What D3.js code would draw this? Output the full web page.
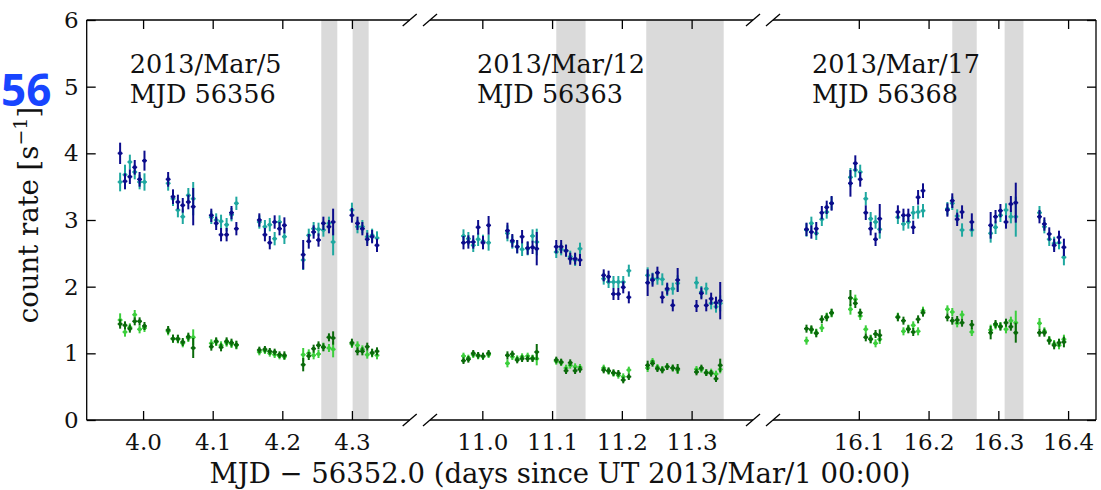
<!DOCTYPE html>
<html>
<head>
<meta charset="utf-8">
<script src="https://cdn.jsdelivr.net/npm/d3@7"></script>
<style>
  html, body { margin: 0; padding: 0; background: #fff; }
  svg { display: block; }
</style>
</head>
<body>
<div id="chart"></div>
<script>
// Broken x axis: three nights
const panelDomains = [[3.919, 4.383], [10.925, 11.388], [15.977, 16.440]];
const panelTicks = [[4.0, 4.1, 4.2, 4.3], [11.0, 11.1, 11.2, 11.3], [16.1, 16.2, 16.3, 16.4]];
const yTicks = [0, 1, 2, 3, 4, 5, 6];
const dateLabels = ['2013/Mar/5', '2013/Mar/12', '2013/Mar/17'];
const mjdLabels = ['MJD 56356', 'MJD 56363', 'MJD 56368'];

// shaded intervals
const shadeStart = [4.256, 4.301, 11.106, 11.235, 16.234, 16.309];
const shadeEnd = [4.279, 4.324, 11.148, 11.346, 16.269, 16.336];

// bin centres (days since MJD 56352.0)
const times = [
  3.967, 3.974, 3.981, 3.988, 3.995, 4.002,
  4.036, 4.043, 4.050, 4.057, 4.065, 4.072,
  4.098, 4.105, 4.112, 4.120, 4.127, 4.134,
  4.167, 4.175, 4.182, 4.189, 4.196, 4.203,
  4.230, 4.238, 4.245, 4.252, 4.259, 4.267, 4.273,
  4.300, 4.308, 4.315, 4.322, 4.329, 4.336,
  10.973, 10.980, 10.987, 10.994, 11.001, 11.009,
  11.036, 11.043, 11.050, 11.057, 11.065, 11.072, 11.078,
  11.106, 11.113, 11.120, 11.126, 11.133, 11.140,
  11.174, 11.181, 11.188, 11.195, 11.202, 11.210,
  11.237, 11.244, 11.251, 11.258, 11.265, 11.273, 11.280,
  11.307, 11.314, 11.321, 11.328, 11.335, 11.341,
  16.025, 16.032, 16.039, 16.047, 16.054, 16.061,
  16.088, 16.095, 16.102, 16.110, 16.117, 16.124, 16.130,
  16.156, 16.164, 16.171, 16.178, 16.185, 16.192,
  16.227, 16.234, 16.241, 16.248, 16.262,
  16.289, 16.296, 16.303, 16.311, 16.318, 16.325,
  16.359, 16.366, 16.373, 16.380, 16.387, 16.394
];

const navyRate = [
  4.00, 3.58, 3.65, 3.79, 3.61, 3.89,
  3.61, 3.35, 3.27, 3.22, 3.27, 3.20,
  3.07, 2.95, 2.78, 2.78, 3.11, 2.87,
  3.00, 2.78, 2.66, 2.97, 2.87, 2.92,
  2.48, 2.68, 2.82, 2.70, 2.95, 2.90, 2.97,
  3.07, 2.95, 2.87, 2.71, 2.75, 2.62,
  2.66, 2.67, 2.67, 2.89, 2.66, 2.92,
  2.84, 2.69, 2.60, 2.75, 2.58, 2.59, 2.57,
  2.60, 2.60, 2.54, 2.42, 2.42, 2.40,
  2.17, 2.15, 1.89, 1.89, 1.99, 1.84,
  2.06, 2.10, 2.21, 1.84, 1.97, 1.72, 2.10,
  1.71, 1.90, 1.72, 1.82, 1.76, 1.79,
  2.86, 2.82, 2.87, 3.11, 3.19, 3.25,
  3.55, 3.85, 3.61, 3.11, 2.87, 2.71, 3.02,
  3.12, 3.07, 3.07, 2.89, 3.34, 3.44,
  3.15, 3.29, 3.01, 3.12, 2.97,
  2.92, 3.05, 3.14, 2.97, 3.24, 3.26,
  3.05, 2.94, 2.79, 2.62, 2.74, 2.59
];
const navyErr = [
  0.16, 0.12, 0.11, 0.11, 0.11, 0.15,
  0.11, 0.11, 0.11, 0.11, 0.11, 0.28,
  0.10, 0.10, 0.10, 0.10, 0.10, 0.10,
  0.10, 0.10, 0.10, 0.10, 0.10, 0.12,
  0.22, 0.11, 0.10, 0.10, 0.10, 0.10, 0.20,
  0.11, 0.10, 0.10, 0.10, 0.10, 0.10,
  0.10, 0.10, 0.10, 0.11, 0.10, 0.14,
  0.12, 0.10, 0.10, 0.10, 0.10, 0.10, 0.25,
  0.10, 0.10, 0.09, 0.09, 0.09, 0.09,
  0.09, 0.09, 0.09, 0.09, 0.09, 0.09,
  0.20, 0.10, 0.09, 0.09, 0.09, 0.09, 0.18,
  0.09, 0.09, 0.09, 0.09, 0.09, 0.28,
  0.10, 0.10, 0.10, 0.10, 0.10, 0.11,
  0.20, 0.12, 0.11, 0.11, 0.10, 0.10, 0.22,
  0.10, 0.10, 0.10, 0.10, 0.11, 0.11,
  0.10, 0.11, 0.10, 0.10, 0.13,
  0.20, 0.10, 0.10, 0.10, 0.12, 0.30,
  0.10, 0.10, 0.10, 0.10, 0.10, 0.13
];

const tealRate = [
  3.57, 3.68, 3.87, 3.72, 3.57, 3.57,
  3.55, 3.32, 3.15, 3.05, 3.37, 3.32,
  3.04, 3.00, 2.98, 2.93, 3.08, 3.25,
  2.97, 2.90, 2.93, 2.72, 2.97, 2.75,
  2.40, 2.77, 2.87, 2.86, 2.85, 2.95, 2.67,
  3.15, 2.90, 2.90, 2.75, 2.77, 2.73,
  2.76, 2.72, 2.62, 2.71, 2.68, 2.66,
  2.80, 2.67, 2.60, 2.56, 2.57, 2.76, 2.67,
  2.52, 2.56, 2.54, 2.45, 2.40, 2.57,
  2.12, 2.07, 2.07, 2.07, 2.07, 2.24,
  2.17, 2.12, 2.12, 2.11, 1.95, 1.97, 2.05,
  2.06, 1.92, 1.97, 1.75, 1.70, 1.75,
  2.85, 2.95, 2.80, 3.01, 3.12, 3.25,
  3.64, 3.75, 3.72, 3.32, 3.02, 2.97, 2.86,
  3.04, 2.94, 2.97, 3.11, 3.12, 3.14,
  3.17, 3.25, 3.06, 2.85, 2.85,
  2.80, 2.89, 3.07, 3.15, 3.05, 3.05,
  3.11, 2.90, 2.71, 2.65, 2.66, 2.44
];
const tealErr = [
  0.14, 0.15, 0.11, 0.11, 0.11, 0.13,
  0.11, 0.11, 0.11, 0.11, 0.11, 0.25,
  0.10, 0.10, 0.10, 0.10, 0.10, 0.10,
  0.10, 0.10, 0.10, 0.10, 0.10, 0.11,
  0.15, 0.10, 0.10, 0.10, 0.10, 0.10, 0.20,
  0.11, 0.10, 0.10, 0.10, 0.10, 0.10,
  0.10, 0.10, 0.10, 0.10, 0.10, 0.12,
  0.12, 0.10, 0.10, 0.10, 0.10, 0.10, 0.20,
  0.09, 0.09, 0.09, 0.09, 0.09, 0.09,
  0.09, 0.09, 0.09, 0.09, 0.09, 0.09,
  0.12, 0.09, 0.09, 0.09, 0.09, 0.09, 0.12,
  0.09, 0.09, 0.09, 0.09, 0.09, 0.12,
  0.10, 0.10, 0.10, 0.10, 0.10, 0.10,
  0.14, 0.11, 0.11, 0.10, 0.10, 0.10, 0.14,
  0.10, 0.10, 0.10, 0.10, 0.10, 0.10,
  0.10, 0.10, 0.10, 0.10, 0.10,
  0.14, 0.10, 0.10, 0.10, 0.10, 0.30,
  0.10, 0.10, 0.10, 0.10, 0.10, 0.12
];

const darkGreenRate = [
  1.44, 1.42, 1.37, 1.48, 1.48, 1.41,
  1.35, 1.22, 1.22, 1.17, 1.25, 1.08,
  1.10, 1.18, 1.09, 1.18, 1.16, 1.13,
  1.05, 1.06, 1.03, 1.02, 0.98, 0.97,
  0.83, 0.96, 1.07, 1.12, 1.09, 1.24, 1.23,
  1.16, 1.03, 1.03, 1.10, 1.01, 1.03,
  0.89, 0.91, 1.00, 0.97, 0.96, 1.00,
  0.97, 0.99, 0.90, 0.92, 0.92, 0.92, 1.02,
  0.90, 0.87, 0.74, 0.86, 0.74, 0.76,
  0.75, 0.74, 0.71, 0.70, 0.60, 0.65,
  0.82, 0.85, 0.77, 0.75, 0.80, 0.78, 0.77,
  0.72, 0.78, 0.71, 0.70, 0.62, 0.82,
  1.37, 1.36, 1.30, 1.51, 1.54, 1.61,
  1.83, 1.75, 1.61, 1.24, 1.21, 1.29, 1.27,
  1.54, 1.49, 1.36, 1.32, 1.51, 1.61,
  1.54, 1.49, 1.50, 1.46, 1.43,
  1.31, 1.44, 1.40, 1.46, 1.40, 1.31,
  1.31, 1.31, 1.19, 1.12, 1.16, 1.17
];
const darkGreenErr = [
  0.07, 0.06, 0.06, 0.06, 0.06, 0.06,
  0.06, 0.06, 0.06, 0.06, 0.06, 0.15,
  0.06, 0.06, 0.06, 0.06, 0.06, 0.06,
  0.05, 0.05, 0.05, 0.05, 0.05, 0.06,
  0.10, 0.06, 0.06, 0.06, 0.06, 0.06, 0.10,
  0.06, 0.06, 0.06, 0.06, 0.06, 0.06,
  0.05, 0.05, 0.05, 0.05, 0.05, 0.05,
  0.06, 0.05, 0.05, 0.05, 0.05, 0.05, 0.12,
  0.05, 0.05, 0.05, 0.05, 0.05, 0.05,
  0.05, 0.05, 0.05, 0.05, 0.05, 0.05,
  0.07, 0.05, 0.05, 0.05, 0.05, 0.05, 0.07,
  0.05, 0.05, 0.05, 0.05, 0.05, 0.10,
  0.06, 0.06, 0.06, 0.06, 0.06, 0.06,
  0.12, 0.07, 0.06, 0.06, 0.06, 0.06, 0.09,
  0.06, 0.06, 0.06, 0.06, 0.06, 0.06,
  0.06, 0.06, 0.06, 0.06, 0.07,
  0.10, 0.06, 0.06, 0.06, 0.06, 0.15,
  0.06, 0.06, 0.06, 0.06, 0.06, 0.08
];

const lightGreenRate = [
  1.50, 1.32, 1.39, 1.58, 1.36, 1.38,
  1.33, 1.22, 1.21, 1.15, 1.23, 1.24,
  1.15, 1.17, 1.12, 1.16, 1.14, 1.12,
  1.02, 1.04, 1.00, 0.98, 0.96, 0.95,
  0.98, 1.00, 0.97, 0.99, 1.10, 1.08, 1.06,
  1.14, 1.12, 1.06, 0.98, 1.00, 0.97,
  0.96, 0.93, 0.98, 0.96, 0.95, 0.98,
  0.85, 0.95, 0.92, 0.95, 0.96, 0.93, 0.92,
  0.88, 0.86, 0.78, 0.82, 0.80, 0.79,
  0.78, 0.73, 0.70, 0.67, 0.65, 0.75,
  0.78, 0.88, 0.79, 0.76, 0.80, 0.78, 0.75,
  0.76, 0.76, 0.71, 0.72, 0.69, 0.76,
  1.19, 1.35, 1.31, 1.38, 1.55, 1.60,
  1.66, 1.81, 1.56, 1.36, 1.22, 1.15, 1.21,
  1.55, 1.33, 1.37, 1.42, 1.33, 1.64,
  1.66, 1.62, 1.45, 1.58, 1.32,
  1.35, 1.42, 1.41, 1.36, 1.49, 1.46,
  1.45, 1.33, 1.20, 1.14, 1.12, 1.21
];
const lightGreenErr = [
  0.10, 0.07, 0.06, 0.07, 0.06, 0.06,
  0.06, 0.06, 0.06, 0.06, 0.06, 0.12,
  0.06, 0.06, 0.06, 0.06, 0.06, 0.06,
  0.05, 0.05, 0.05, 0.05, 0.05, 0.05,
  0.10, 0.06, 0.06, 0.06, 0.06, 0.06, 0.12,
  0.06, 0.06, 0.06, 0.06, 0.06, 0.06,
  0.05, 0.05, 0.05, 0.05, 0.05, 0.05,
  0.06, 0.05, 0.05, 0.05, 0.05, 0.05, 0.10,
  0.05, 0.05, 0.05, 0.05, 0.05, 0.05,
  0.05, 0.05, 0.05, 0.05, 0.05, 0.05,
  0.06, 0.05, 0.05, 0.05, 0.05, 0.05, 0.06,
  0.05, 0.05, 0.05, 0.05, 0.05, 0.06,
  0.06, 0.06, 0.06, 0.06, 0.06, 0.06,
  0.08, 0.07, 0.06, 0.06, 0.06, 0.06, 0.07,
  0.06, 0.06, 0.06, 0.06, 0.06, 0.06,
  0.06, 0.06, 0.06, 0.06, 0.06,
  0.08, 0.06, 0.06, 0.06, 0.06, 0.18,
  0.08, 0.06, 0.06, 0.06, 0.06, 0.07
];

// Series, drawn in this order
const series = [
  { rate: tealRate, err: tealErr, color: '#1fa8a0' },
  { rate: navyRate, err: navyErr, color: '#0c0c8c' },
  { rate: lightGreenRate, err: lightGreenErr, color: '#3ccf3c' },
  { rate: darkGreenRate, err: darkGreenErr, color: '#0a6a0a' }
];

const binHalf = 0.0035;

// Layout
const W = 1101, H = 490;
const plotTop = 20, plotBottom = 420;
const panelLeft = [86.7, 430, 773];
const panelWidth = 323;
const serif = "'DejaVu Serif', 'Liberation Serif', serif";

const svg = d3.select('#chart').append('svg')
  .attr('width', W)
  .attr('height', H);

const y = d3.scaleLinear().domain([0, 6]).range([plotBottom, plotTop]);

panelDomains.forEach((dom, p) => {
  const x0 = panelLeft[p];
  const x1 = x0 + panelWidth;
  const x = d3.scaleLinear().domain(dom).range([x0, x1]);
  const g = svg.append('g').attr('class', 'panel');

  // shaded spans
  shadeStart.forEach((s, k) => {
    if (s >= dom[0] && s <= dom[1]) {
      g.append('rect')
        .attr('x', x(s))
        .attr('y', plotTop)
        .attr('width', x(shadeEnd[k]) - x(s))
        .attr('height', plotBottom - plotTop)
        .attr('fill', '#dadada');
    }
  });

  // error bars
  series.forEach((s) => {
    times.forEach((t, k) => {
      if (t < dom[0] || t > dom[1]) return;
      const v = s.rate[k], e = s.err[k];
      g.append('line')
        .attr('x1', x(t)).attr('x2', x(t))
        .attr('y1', y(v - e)).attr('y2', y(v + e))
        .attr('stroke', s.color).attr('stroke-width', 2);
      g.append('line')
        .attr('x1', x(t - binHalf)).attr('x2', x(t + binHalf))
        .attr('y1', y(v)).attr('y2', y(v))
        .attr('stroke', s.color).attr('stroke-width', 1.6);
      g.append('circle')
        .attr('cx', x(t)).attr('cy', y(v)).attr('r', 2)
        .attr('fill', s.color);
    });
  });

  // x axes (ticks pointing inwards)
  const xb = g.append('g')
    .attr('transform', `translate(0,${plotBottom})`)
    .call(d3.axisBottom(x).tickValues(panelTicks[p]).tickFormat(d3.format('.1f'))
      .tickSizeInner(-9).tickSizeOuter(0).tickPadding(14));
  const xt = g.append('g')
    .attr('transform', `translate(0,${plotTop})`)
    .call(d3.axisTop(x).tickValues(panelTicks[p]).tickFormat('')
      .tickSizeInner(-9).tickSizeOuter(0));
  [xb, xt].forEach((a) => {
    a.select('.domain').remove();
    a.selectAll('line').attr('stroke', '#000').attr('stroke-width', 1.3);
    a.selectAll('text').attr('font-family', serif).attr('font-size', 23).attr('fill', '#111');
  });

  // spines
  g.append('line').attr('x1', x0).attr('x2', x1).attr('y1', plotTop).attr('y2', plotTop)
    .attr('stroke', '#000').attr('stroke-width', 1.3);
  g.append('line').attr('x1', x0).attr('x2', x1).attr('y1', plotBottom).attr('y2', plotBottom)
    .attr('stroke', '#000').attr('stroke-width', 1.3);

  if (p === 0) {
    const ya = g.append('g')
      .attr('transform', `translate(${x0},0)`)
      .call(d3.axisLeft(y).tickValues(yTicks).tickFormat(d3.format('d'))
        .tickSizeInner(-9).tickSizeOuter(0).tickPadding(8));
    ya.select('.domain').remove();
    ya.selectAll('line').attr('stroke', '#000').attr('stroke-width', 1.3);
    ya.selectAll('text').attr('font-family', serif).attr('font-size', 23).attr('fill', '#111');
    g.append('line').attr('x1', x0).attr('x2', x0).attr('y1', plotTop).attr('y2', plotBottom)
      .attr('stroke', '#000').attr('stroke-width', 1.3);
  }
  if (p === panelDomains.length - 1) {
    const yr = g.append('g')
      .attr('transform', `translate(${x1},0)`)
      .call(d3.axisRight(y).tickValues(yTicks).tickFormat('')
        .tickSizeInner(-9).tickSizeOuter(0));
    yr.select('.domain').remove();
    yr.selectAll('line').attr('stroke', '#000').attr('stroke-width', 1.3);
    g.append('line').attr('x1', x1).attr('x2', x1).attr('y1', plotTop).attr('y2', plotBottom)
      .attr('stroke', '#000').attr('stroke-width', 1.3);
  }

  // break marks
  const breaks = [];
  if (p > 0) breaks.push(x0);
  if (p < panelDomains.length - 1) breaks.push(x1);
  breaks.forEach((bx) => {
    [plotTop, plotBottom].forEach((by) => {
      g.append('line')
        .attr('x1', bx - 7).attr('y1', by + 6)
        .attr('x2', bx + 7).attr('y2', by - 6)
        .attr('stroke', '#000').attr('stroke-width', 1.3);
    });
  });

  // night labels
  const lx = x0 + [43, 47, 39][p];
  g.append('text').attr('x', lx).attr('y', 73)
    .attr('font-family', serif).attr('font-size', 25.5).attr('fill', '#111')
    .text(dateLabels[p]);
  g.append('text').attr('x', lx).attr('y', 103)
    .attr('font-family', serif).attr('font-size', 25.5).attr('fill', '#111')
    .text(mjdLabels[p]);
});

// axis titles
svg.append('text')
  .attr('x', 560).attr('y', 483)
  .attr('text-anchor', 'middle')
  .attr('font-family', serif).attr('font-size', 27.5).attr('fill', '#111')
  .text('MJD \u2212 56352.0 (days since UT 2013/Mar/1 00:00)');

const yl = svg.append('text')
  .attr('transform', 'translate(38,215) rotate(-90)')
  .attr('text-anchor', 'middle')
  .attr('font-family', serif).attr('font-size', 27.5).attr('fill', '#111');
yl.append('tspan').text('count rate [s');
yl.append('tspan').attr('dy', -11).attr('font-size', 19).text('\u22121');
yl.append('tspan').attr('dy', 11).text(']');

// stray overlay label at the left edge
svg.append('text')
  .attr('x', 1).attr('y', 106)
  .attr('text-anchor', 'start')
  .attr('font-family', "'Open Sans', sans-serif")
  .attr('font-weight', 700)
  .attr('font-size', 44)
  .attr('fill', '#1845ff')
  .text('56');
</script>
</body>
</html>
